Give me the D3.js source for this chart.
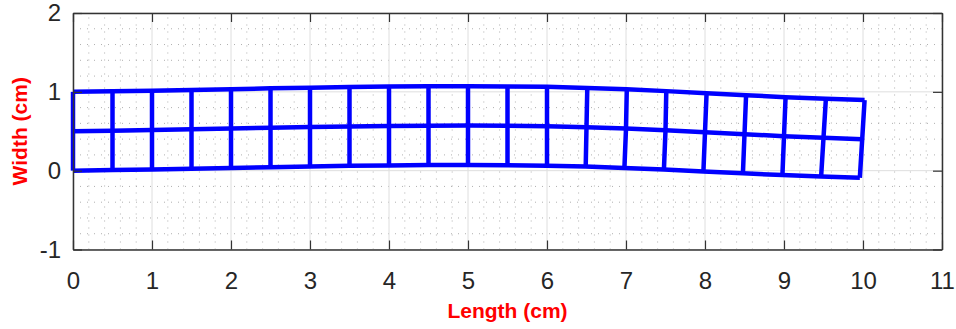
<!DOCTYPE html>
<html>
<head>
<meta charset="utf-8">
<script src="https://cdn.jsdelivr.net/npm/d3@7"></script>
<style>
  html, body { margin: 0; padding: 0; background: #fff; }
  svg { display: block; font-family: 'Liberation Sans', Arial, Helvetica, sans-serif; }
</style>
</head>
<body>
<svg id="chart" width="956" height="329"></svg>
<script>
// tick labels
const xTicks = [0, 1, 2, 3, 4, 5, 6, 7, 8, 9, 10, 11]
const yTicks = [-1, 0, 1, 2]

// deformed mesh nodes (bottom, middle, top rows)
const xBot = [0, 0.5, 1, 1.5, 2, 2.5, 3, 3.5, 4, 4.5, 5, 5.5, 6, 6.49, 6.98, 7.48, 7.98, 8.48, 8.98, 9.47, 9.96]
const xMid = [0, 0.5, 1, 1.5, 2, 2.5, 3, 3.5, 4, 4.5, 5, 5.5, 6, 6.5, 7, 7.5, 8, 8.5, 9, 9.5, 9.99]
const xTop = [0, 0.5, 1, 1.5, 2, 2.5, 3, 3.5, 4, 4.5, 5, 5.5, 6, 6.51, 7.01, 7.51, 8.02, 8.52, 9.02, 9.53, 10.02]
const yBot = [0, 0.007, 0.015, 0.024, 0.034, 0.044, 0.053, 0.061, 0.067, 0.071, 0.072, 0.069, 0.063, 0.052, 0.035, 0.014, -0.010, -0.034, -0.056, -0.075, -0.090]
const yMid = [0.5, 0.507, 0.515, 0.524, 0.534, 0.544, 0.553, 0.561, 0.567, 0.571, 0.572, 0.569, 0.563, 0.552, 0.534, 0.512, 0.487, 0.462, 0.438, 0.417, 0.400]
const yTop = [1, 1.007, 1.015, 1.024, 1.034, 1.044, 1.053, 1.061, 1.067, 1.071, 1.072, 1.069, 1.063, 1.050, 1.032, 1.009, 0.983, 0.957, 0.932, 0.911, 0.895]

const svg = d3.select('#chart')
const pLeft = 73, pRight = 942, pTop = 13, pBottom = 249.5

const x = d3.scaleLinear().domain([0, 11]).range([pLeft, pRight])
const y = d3.scaleLinear().domain([-1, 2]).range([pBottom, pTop])

// minor grid (dotted)
const xMinor = d3.range(0, 11.001, 0.2).filter(v => Math.abs(v - Math.round(v)) > 1e-6)
const yMinor = d3.range(-1, 2.001, 0.2).filter(v => Math.abs(v - Math.round(v)) > 1e-6)
const minor = svg.append('g')
  .attr('stroke', '#b0b0b0')
  .attr('stroke-width', 1)
  .attr('stroke-dasharray', '1,6')
minor.selectAll('.vx').data(xMinor).join('line')
  .attr('x1', d => x(d)).attr('x2', d => x(d))
  .attr('y1', pBottom).attr('y2', pTop)
minor.selectAll('.hy').data(yMinor).join('line')
  .attr('y1', d => y(d)).attr('y2', d => y(d))
  .attr('x1', pLeft).attr('x2', pRight)

// major grid
const major = svg.append('g').attr('stroke', '#dedede').attr('stroke-width', 1)
major.selectAll('.gx').data(xTicks).join('line')
  .attr('x1', d => x(d)).attr('x2', d => x(d))
  .attr('y1', pBottom).attr('y2', pTop)
major.selectAll('.gy').data(yTicks).join('line')
  .attr('y1', d => y(d)).attr('y2', d => y(d))
  .attr('x1', pLeft).attr('x2', pRight)

// mesh
const rows = [[xBot, yBot], [xMid, yMid], [xTop, yTop]]
const line = d3.line().x(d => x(d[0])).y(d => y(d[1]))
const mesh = svg.append('g')
  .attr('fill', 'none')
  .attr('stroke', '#0000ff')
  .attr('stroke-width', 4.5)
  .attr('stroke-linejoin', 'round')

mesh.selectAll('.row').data(rows).join('path')
  .attr('d', r => line(r[0].map((v, i) => [v, r[1][i]])))

mesh.selectAll('.col').data(d3.range(xMid.length)).join('path')
  .attr('d', i => line(rows.map(r => [r[0][i], r[1][i]])))

// axes box with inward ticks
const tickLen = 9
const styleAxis = g => {
  g.selectAll('path.domain').attr('stroke', '#333').attr('stroke-width', 1.5)
  g.selectAll('.tick line').attr('stroke', '#333').attr('stroke-width', 1.2)
  g.selectAll('.tick text')
    .attr('fill', '#262626')
    .attr('font-size', 24)
    .attr('font-family', "'Liberation Sans', Arial, Helvetica, sans-serif")
}

svg.append('g')
  .attr('transform', `translate(0,${pBottom})`)
  .call(d3.axisBottom(x).tickValues(xTicks).tickSize(-tickLen).tickSizeOuter(0).tickPadding(22).tickFormat(d => String(d)))
  .call(styleAxis)

svg.append('g')
  .attr('transform', `translate(0,${pTop})`)
  .call(d3.axisTop(x).tickValues(xTicks).tickSize(-tickLen).tickSizeOuter(0).tickFormat(''))
  .call(styleAxis)

svg.append('g')
  .attr('transform', `translate(${pLeft},0)`)
  .call(d3.axisLeft(y).tickValues(yTicks).tickSize(-tickLen).tickSizeOuter(0).tickPadding(12).tickFormat(d => String(d)))
  .call(styleAxis)

svg.append('g')
  .attr('transform', `translate(${pRight},0)`)
  .call(d3.axisRight(y).tickValues(yTicks).tickSize(-tickLen).tickSizeOuter(0).tickFormat(''))
  .call(styleAxis)

// axis labels
svg.append('text')
  .attr('x', (pLeft + pRight) / 2)
  .attr('y', 318)
  .attr('text-anchor', 'middle')
  .attr('fill', '#ff0000')
  .attr('font-weight', 'bold')
  .attr('font-size', 21)
  .text('Length (cm)')

svg.append('text')
  .attr('transform', `translate(27,${(pTop + pBottom) / 2}) rotate(-90)`)
  .attr('text-anchor', 'middle')
  .attr('fill', '#ff0000')
  .attr('font-weight', 'bold')
  .attr('font-size', 21)
  .text('Width (cm)')
</script>
</body>
</html>
